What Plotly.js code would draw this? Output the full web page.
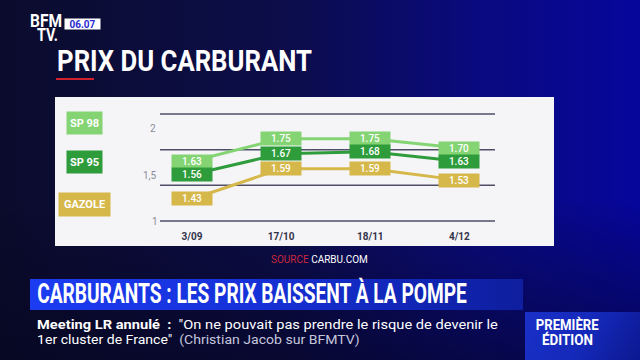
<!DOCTYPE html>
<html>
<head>
<meta charset="utf-8">
<script src="https://cdn.plot.ly/plotly-3.0.1.min.js"></script>
<style>
html,body{margin:0;padding:0;width:640px;height:360px;overflow:hidden;}
body{background:
  linear-gradient(to bottom, rgba(4,4,28,0) 55%, rgba(4,4,28,0.55) 100%),
  linear-gradient(90deg,#0b0c2c 0%,#0c0d4a 45%,#0a0a80 75%,#06069c 100%);}
#banner{position:absolute;left:30px;top:279px;width:493px;height:31px;
  background:linear-gradient(90deg,#1c3cf2 0%,#1631d8 45%,#0e1e9e 100%);}
#edition{position:absolute;left:525px;top:312px;width:115px;height:48px;
  background:linear-gradient(120deg,#1a30c8 0%,#1428b8 55%,#0c1890 100%);}
#chart{position:absolute;left:0;top:0;width:640px;height:360px;}
</style>
</head>
<body>
<div id="banner"></div>
<div id="edition"></div>
<div id="chart"></div>
<script>
// ---- data ----
const dates = ['3/09', '17/10', '18/11', '4/12'];
const sp98 = [1.63, 1.75, 1.75, 1.70];
const sp95 = [1.56, 1.67, 1.68, 1.63];
const gazole = [1.43, 1.59, 1.59, 1.53];
const seriesNames = ['SP 98', 'SP 95', 'GAZOLE'];
const yTickLabels = ['2', '1,5', '1'];

// ---- styling ----
const colors = ['#84d474', '#2f9c3c', '#d6b84a'];
const series = [sp98, sp95, gazole];

// plot area in pixels
const L = 160, R = 495, T = 114, B = 221;
const X = px => (px - L) / (R - L);
const Y = py => (B - py) / (B - T);

const traces = series.map((vals, i) => ({
  x: dates, y: vals, type: 'scatter', mode: 'lines',
  name: seriesNames[i],
  line: {color: colors[i], width: 3},
  hoverinfo: 'skip'
}));

const ann = [];
const shapes = [];
const squeeze = []; // [annotation index, target pixel width, vertical scale]

function addText(px, py, text, font, opts) {
  const a = Object.assign({xref: 'paper', yref: 'paper', x: X(px), y: Y(py), text: text,
    showarrow: false, xanchor: 'center', yanchor: 'middle', font: font}, opts || {});
  ann.push(a);
  return ann.length - 1;
}
// condensed text: small font, stretched to the target width and visual size
function addCondensed(px, py, text, size, visualSize, w, h) {
  const i = addText(px, py, text, {family: 'Roboto', size: size, color: '#ffffff'},
    {width: w, height: h, borderpad: 0});
  squeeze.push([i, w, visualSize / size]);
  return i;
}

// white panel
shapes.push({type: 'rect', xref: 'paper', yref: 'paper', layer: 'below',
  x0: X(55), x1: X(554), y0: Y(97), y1: Y(246),
  fillcolor: '#f5f5f8', line: {width: 0}});
// grid lines
[0, 1/3, 2/3, 1].forEach(v => shapes.push({type: 'line', xref: 'paper', yref: 'paper', layer: 'below',
  x0: 0, x1: 1, y0: v, y1: v, line: {color: '#4e4e68', width: 1.5}}));
// red underline
shapes.push({type: 'rect', xref: 'paper', yref: 'paper',
  x0: X(56), x1: X(94), y0: Y(78), y1: Y(80), fillcolor: '#d0202e', line: {width: 0}});

// y tick labels
const tickPos = [[153, 128], [150, 175], [155, 221]];
yTickLabels.forEach((t, i) => addText(tickPos[i][0], tickPos[i][1], t,
  {family: 'Roboto', size: 10, color: '#8c8c98'}));

// value labels
series.forEach((vals, i) => vals.forEach((v, j) => ann.push({
  x: dates[j], y: v, text: v.toFixed(2), showarrow: false, xanchor: 'center', yanchor: 'middle',
  bgcolor: colors[i], width: 36, height: 9, borderpad: 2,
  font: {family: 'Roboto', size: 10, color: '#ffffff', weight: 500}
})));

// legend boxes
const legPos = [[84.5, 123, 31, 18], [84.5, 162, 31, 18], [84.5, 204.5, 47, 19]];
seriesNames.forEach((n, i) => addText(legPos[i][0], legPos[i][1], '<b>' + n + '</b>',
  {family: 'Roboto', size: 11, color: '#ffffff'},
  {bgcolor: colors[i], width: legPos[i][2], height: legPos[i][3], borderpad: 2}));

// source
addText(319, 259, '<span style="color:#c8283c">SOURCE</span> CARBU.COM',
  {family: 'Roboto', size: 10, color: '#ffffff'});

// title
addCondensed(184.5, 61, '<b>PRIX DU CARBURANT</b>', 20, 29, 255, 26);

// logo
addCondensed(46, 21.5, '<b>BFM</b>', 11, 18, 32, 13);
addCondensed(47.5, 35.5, '<b>TV.</b>', 11, 18, 21, 13);
addText(82.5, 24, '<b>06.07</b>', {family: 'Roboto', size: 10, color: '#2a2ad2'},
  {bgcolor: '#ffffff', width: 33, height: 8, borderpad: 1});

// headline
addCondensed(252, 293, '<b>CARBURANTS : LES PRIX BAISSENT À LA POMPE</b>', 18, 27, 430, 28);
// ticker
addCondensed(267.5, 324, '<b>Meeting LR annulé  :</b>  "On ne pouvait pas prendre le risque de devenir le', 11, 13, 461, 13);
addCondensed(198.5, 339.5, '1er cluster de France"  <span style="color:#c4c6dc">(Christian Jacob sur BFMTV)</span>', 11, 13, 323, 13);
// edition
addCondensed(567.5, 324, '<b>PREMIÈRE</b>', 10, 14, 63, 13);
addCondensed(567.5, 339, '<b>ÉDITION</b>', 10, 14, 51, 13);

const layout = {
  width: 640, height: 360,
  margin: {l: L, r: 640 - R, t: T, b: 360 - B, pad: 0},
  paper_bgcolor: 'rgba(0,0,0,0)', plot_bgcolor: 'rgba(0,0,0,0)',
  showlegend: false,
  xaxis: {type: 'category', range: [-0.36, 3.40], showgrid: false, zeroline: false,
    showline: false, ticks: '', ticklabelstandoff: 8,
    tickfont: {family: 'Roboto', size: 10, color: '#33334a', weight: 'bold'}},
  yaxis: {range: [1.313, 1.881], showgrid: false, zeroline: false, showline: false,
    showticklabels: false, ticks: ''},
  shapes: shapes, annotations: ann
};

Plotly.newPlot('chart', traces, layout, {displayModeBar: false, staticPlot: true}).then(gd => {
  squeeze.forEach(([idx, w, sy]) => {
    const t = gd.querySelector('.annotation[data-index="' + idx + '"] text.annotation-text');
    if (!t) return;
    const bb = t.getBBox();
    const natural = t.getComputedTextLength() || bb.width;
    const sx = w / natural;
    const cx = bb.x + bb.width / 2, cy = bb.y + bb.height / 2;
    t.setAttribute('transform',
      'translate(' + cx + ',' + cy + ') scale(' + sx + ',' + sy + ') translate(' + (-cx) + ',' + (-cy) + ')');
  });
});
</script>
</body>
</html>
